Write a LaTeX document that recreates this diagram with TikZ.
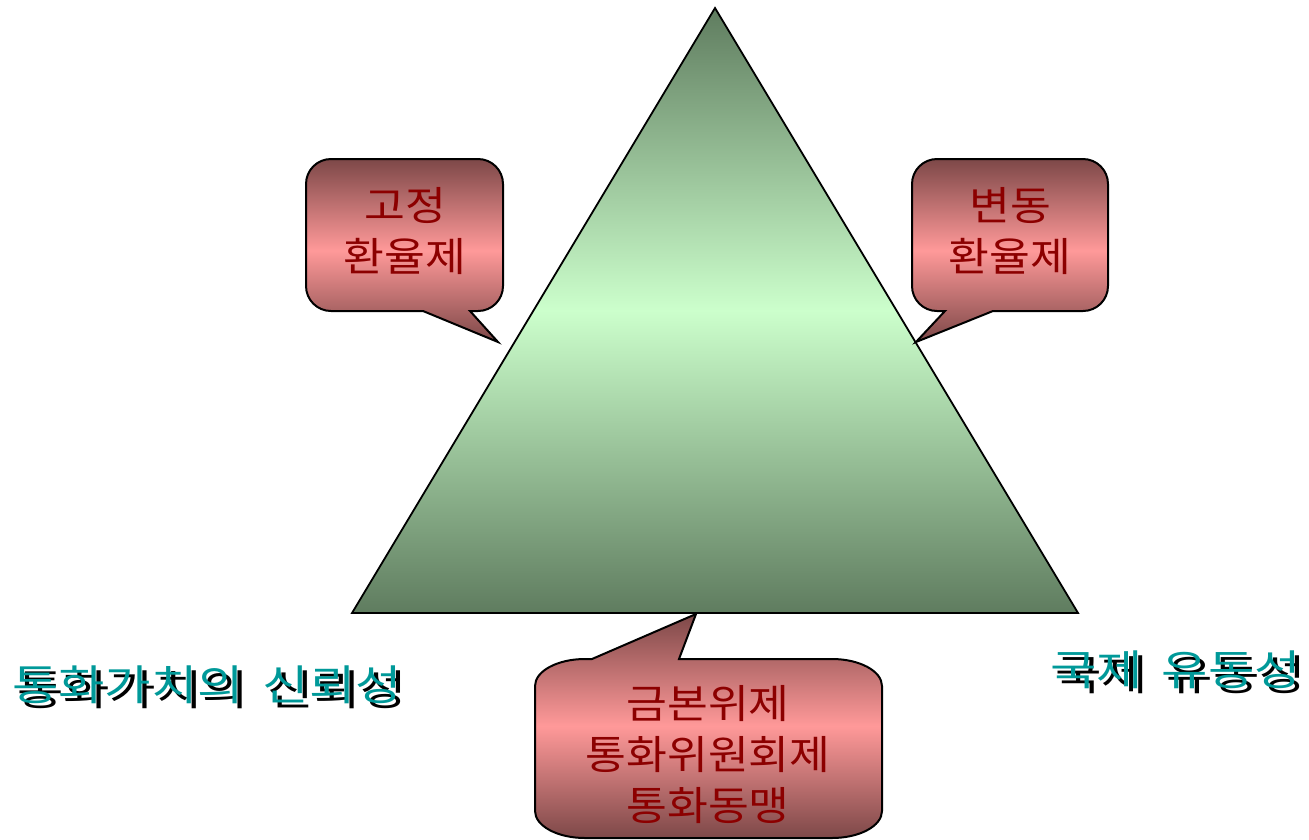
\documentclass[tikz,border=0pt]{standalone}
\usepackage{fontspec}
\setmainfont{Noto Sans CJK KR}
\newfontfamily\krbox[FakeStretch=1.11]{Noto Sans CJK KR}
\newfontfamily\krlbl[FakeStretch=1.2]{Noto Sans CJK KR}
\definecolor{gdark}{RGB}{95,124,95}
\definecolor{glight}{RGB}{204,255,204}
\definecolor{rdark}{RGB}{125,72,72}
\definecolor{rlight}{RGB}{255,153,153}
\definecolor{txtred}{RGB}{140,0,0}
\definecolor{teal2}{RGB}{0,153,153}
\tikzset{
  calloutbox/.style={draw=black, line width=2pt, top color=rdark, bottom color=rdark, middle color=rlight},
  callouttext/.style={text=txtred, font=\krbox\fontsize{40}{51}\selectfont, align=center, inner sep=0pt},
  labelfront/.style={text=teal2, font=\krlbl\fontsize{42}{50}\selectfont, inner sep=0pt},
  labelback/.style={text=black, font=\krlbl\fontsize{42}{50}\selectfont, inner sep=0pt},
}
\begin{document}
\begin{tikzpicture}[x=1pt,y=-1pt]
\useasboundingbox (0,0) rectangle (1309,839);
% triangle
\draw[line width=1.8pt, top color=gdark, bottom color=gdark, middle color=glight, line join=miter]
  (715,8) coordinate (apex) -- (1078,613) coordinate (br) -- (352,613) coordinate (bl) -- cycle;
% left callout
\draw[calloutbox]
  (423,311) -- (498,342) -- (470,311) -- (478,311)
  arc[start angle=90, end angle=0, radius=25] -- (503,184)
  arc[start angle=0, end angle=-90, radius=25] -- (331,159)
  arc[start angle=-90, end angle=-180, radius=25] -- (306,286)
  arc[start angle=180, end angle=90, radius=25] -- cycle;
\node[callouttext] (fixed) at (405,231) {고정\\환율제};
% right callout
\draw[calloutbox]
  (993,311) -- (916,342) -- (945,311) -- (937,311)
  arc[start angle=90, end angle=180, radius=25] -- (912,184)
  arc[start angle=180, end angle=270, radius=25] -- (1083,159)
  arc[start angle=270, end angle=360, radius=25] -- (1108,286)
  arc[start angle=0, end angle=90, radius=25] -- cycle;
\node[callouttext] (float) at (1010,231) {변동\\환율제};
% bottom callout
\draw[calloutbox]
  (592,659) -- (696,614) -- (679,659) -- (832,659)
  arc[start angle=-90, end angle=0, x radius=50, y radius=27] -- (882,811)
  arc[start angle=0, end angle=90, x radius=50, y radius=27] -- (585,838)
  arc[start angle=90, end angle=180, x radius=50, y radius=27] -- (535,686)
  arc[start angle=180, end angle=270, x radius=50, y radius=27] -- cycle;
\node[callouttext] (bottom) at (708,755) {금본위제\\통화위원회제\\통화동맹};
% labels
\node[labelback, anchor=west] (lblL2) at (17,690) {통화가치의\hspace{0.45em}신뢰성};
\node[labelfront, anchor=west] (lblL) at (12,685) {통화가치의\hspace{0.45em}신뢰성};
\node[labelback, anchor=west] (lblR2) at (1055,675) {국제\hspace{0.45em}유동성};
\node[labelfront, anchor=west] (lblR) at (1050,670) {국제\hspace{0.45em}유동성};
\end{tikzpicture}
\end{document}
